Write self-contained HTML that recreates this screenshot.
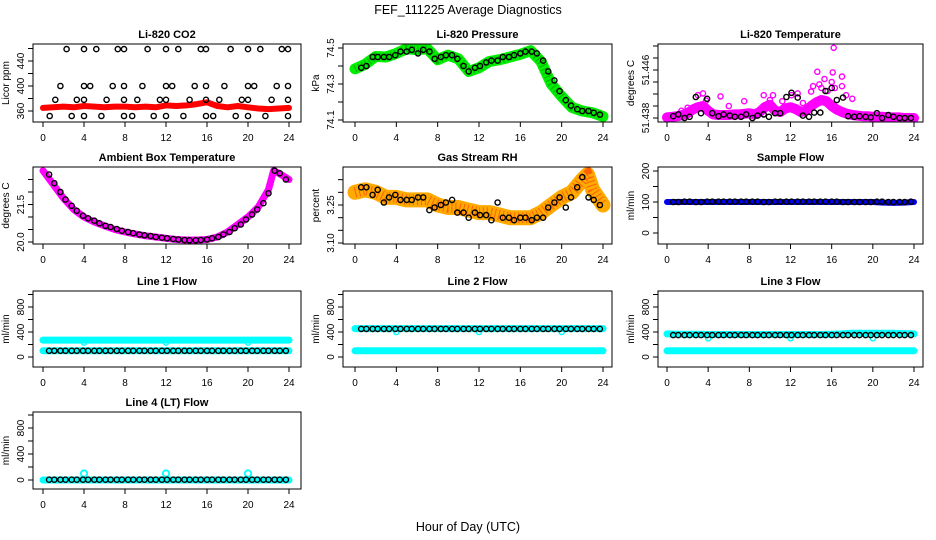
<!DOCTYPE html>
<html><head><meta charset="utf-8">
<style>
html,body{margin:0;padding:0;background:#fff;}
svg{display:block;font-family:"Liberation Sans",Arial,sans-serif;}
</style></head>
<body>
<svg id="chart" width="936" height="540" viewBox="0 0 936 540">
<text x="468" y="14" text-anchor="middle" font-size="12.5">FEF_111225  Average Diagnostics</text>
<text x="468" y="531" text-anchor="middle" font-size="12.5">Hour of Day (UTC)</text>
</svg>
<script>
// ---- data ----
const hourTicks = [0,4,8,12,16,20,24];
const blackH = [0.6,1.1,1.7,2.2,2.8,3.3,3.9,4.4,5.0,5.5,6.1,6.6,7.2,7.7,8.3,8.8,9.4,9.9,10.5,11.0,11.6,12.1,12.7,13.2,13.8,14.3,14.9,15.4,16.0,16.5,17.1,17.6,18.2,18.7,19.3,19.8,20.4,20.9,21.5,22.0,22.6,23.1,23.7];
const hourly = [0,1,2,3,4,5,6,7,8,9,10,11,12,13,14,15,16,17,18,19,20,21,22,23,24];

const co2Red = [365,366,367,366,368,367,366,367,367,366,367,366,369,368,369,371,374,368,366,368,366,364,363,364,365];
const co2BlackH = [2.3,4.0,5.2,7.3,7.9,10.2,12.0,13.2,15.4,15.9,18.3,20.0,21.2,23.3,23.9, 1.7,4.0,4.6,6.8,7.9,9.7,12.0,12.6,14.8,15.9,17.7,20.0,20.6,22.8,23.9, 1.2,3.3,4.0,6.2,7.9,9.2,11.4,12.0,14.3,15.9,17.2,19.4,20.0,22.3,23.9, 0.65,2.8,4.0,5.7,7.9,8.7,10.8,12.0,13.7,15.9,16.6,18.8,20.0,21.7,23.9];
const co2BlackV = [459,459,459,459,459,459,459,459,459,459,459,459,459,459,459, 400,400,400,400,400,400,400,400,400,400,400,400,400,400,400, 378,378,378,378,378,378,378,378,378,378,378,378,378,378,378, 352,352,352,352,352,352,352,352,352,352,352,352,352,352,352];

const presGreen = [74.384,74.41,74.453,74.45,74.47,74.496,74.49,74.496,74.435,74.46,74.44,74.37,74.39,74.425,74.435,74.45,74.465,74.485,74.425,74.30,74.23,74.17,74.15,74.14,74.12];
const presBlack = [74.39,74.40,74.45,74.45,74.45,74.45,74.46,74.48,74.48,74.49,74.47,74.49,74.48,74.44,74.45,74.46,74.46,74.44,74.40,74.37,74.39,74.40,74.42,74.43,74.43,74.45,74.45,74.46,74.47,74.48,74.48,74.47,74.43,74.37,74.32,74.26,74.21,74.18,74.16,74.15,74.15,74.14,74.13];

const tempH = [0,0.5,1,1.5,2,2.5,3,3.5,4,4.5,5,5.5,6,6.5,7,7.5,8,8.5,9,9.5,10,10.5,11,11.5,12,12.5,13,13.5,14,14.5,15,15.5,16,16.5,17,17.5,18,18.5,19,19.5,20,20.5,21,21.5,22,22.5,23,23.5,24];
const tempCore = [51.4381,51.4382,51.4383,51.4385,51.4388,51.4394,51.4398,51.4400,51.4392,51.4386,51.4385,51.4385,51.4385,51.4386,51.4386,51.4387,51.4388,51.4386,51.4390,51.4398,51.4402,51.4392,51.4390,51.4396,51.4398,51.4395,51.4390,51.4392,51.4400,51.4406,51.4410,51.4408,51.4400,51.4394,51.4390,51.4387,51.4385,51.4384,51.4383,51.4383,51.4382,51.4382,51.4382,51.4381,51.4381,51.4381,51.4380,51.4380,51.4380];
const tempMagH = [3.0,3.5,5.2,9.4,10.3,14.6,15.3,16.1,16.2,16.3,17.0,17.0,17.4,14.0,14.2,12.7,12.1,11.2,7.5,3.8,2.0,10.0,13.2,15.0,16.0,15.6,14.8,6.0,1.4,18.0];
const tempMagV = [51.4418,51.4421,51.4416,51.4418,51.4418,51.4457,51.4445,51.4456,51.4497,51.4430,51.4433,51.4449,51.4418,51.4424,51.4433,51.4421,51.4418,51.4408,51.4408,51.4409,51.4397,51.4410,51.4405,51.4430,51.4440,51.4425,51.4436,51.4400,51.4392,51.4412];
const tempBlack = [51.4383,51.4386,51.4380,51.4382,51.4415,51.4388,51.4412,51.4388,51.4383,51.4386,51.4384,51.4382,51.4382,51.4386,51.4380,51.4384,51.4386,51.4382,51.4388,51.4388,51.4415,51.4422,51.4414,51.4384,51.4382,51.4389,51.4389,51.4425,51.4430,51.4410,51.4414,51.4383,51.4382,51.4383,51.4382,51.4381,51.4388,51.4380,51.4385,51.4382,51.4380,51.4380,51.4380];

const ambH = [0,1,2,3,4,5,6,7,8,9,10,11,12,13,14,15,16,17,18,19,20,21,22,22.5,23,24];
const ambMag = [22.85,22.3,21.75,21.3,21.0,20.8,20.65,20.5,20.4,20.32,20.25,20.2,20.15,20.1,20.08,20.08,20.1,20.2,20.4,20.7,21.0,21.4,22.1,22.85,22.75,22.5];
const ambBlack = [22.7,22.35,22.0,21.7,21.45,21.25,21.05,20.95,20.85,20.75,20.65,20.6,20.52,20.45,20.4,20.35,20.3,20.27,20.24,20.2,20.17,20.15,20.12,20.1,20.08,20.07,20.07,20.08,20.1,20.15,20.2,20.3,20.4,20.55,20.7,20.9,21.1,21.3,21.55,21.95,22.85,22.75,22.5];

const rhH = [0,1,2,3,4,5,6,7,8,9,10,11,12,13,14,15,16,17,18,19,20,21,22,22.5,23,24];
const rhOrange = [3.30,3.31,3.30,3.28,3.28,3.27,3.27,3.27,3.25,3.24,3.24,3.23,3.22,3.22,3.21,3.20,3.20,3.20,3.22,3.25,3.28,3.30,3.35,3.37,3.31,3.25];
const rhBlack = [3.32,3.32,3.29,3.31,3.26,3.28,3.29,3.27,3.27,3.27,3.28,3.28,3.23,3.24,3.25,3.26,3.27,3.22,3.22,3.20,3.22,3.21,3.21,3.19,3.26,3.20,3.20,3.19,3.20,3.20,3.19,3.20,3.20,3.24,3.26,3.28,3.24,3.28,3.32,3.36,3.28,3.27,3.25];

const sampleBlue = [100,100,100,100,100,100,100,100,100,100,100,100,100,100,100,100,100,100,100,100,100,98,97,98,100];
const sampleBlack = [100,100,101,101,100,100,101,101,101,101,101,101,101,101,101,101,100,100,101,101,101,101,101,101,101,101,101,101,101,101,100,100,100,100,100,100,101,101,100,100,100,100,101];

const l1Cyan = [270,270,270,270,270,270,270,270,270,270,270,270,270,270,270,270,270,270,270,270,270,270,270,270,270];
const l1Low = [100,100,100,100,100,100,100,100,100,100,100,100,100,100,100,100,100,100,100,100,100,100,100,100,100];
const l1Black = blackH.map(()=>100);
const l2Cyan = [455,455,455,455,455,455,455,455,455,455,455,455,455,455,455,455,455,455,455,455,455,455,455,455,455];
const l2Low = [100,100,100,100,100,100,100,100,100,100,100,100,100,100,100,100,100,100,100,100,100,100,100,100,100];
const l2Black = blackH.map(()=>450);
const l3Cyan = [370,365,365,365,360,360,360,360,360,360,360,360,360,360,360,360,365,370,380,380,380,380,380,375,370];
const l3Low = [100,100,100,100,100,100,100,100,100,100,100,100,100,100,100,100,100,100,100,100,100,100,100,100,100];
const l3Black = blackH.map(()=>350);
const l4Cyan = [0,0,0,0,0,0,0,0,0,0,0,0,0,0,0,0,0,0,0,0,0,0,0,0,0];
const l4Black = blackH.map(()=>5);
const dipH = [4,12,20];
const l1Dip = [230,230,230];
const l2Dip = [400,400,400];
const l3Dip = [300,300,300];
const l4Dip = [100,100,100];

// ---- drawing ----
const NS = 'http://www.w3.org/2000/svg';
const svg = document.getElementById('chart');
function mk(tag, attrs, parent){ const e=document.createElementNS(NS,tag); for(const k in attrs) e.setAttribute(k,attrs[k]); (parent||svg).appendChild(e); return e; }

const cols = [{l:33,r:301,x0:43,x24:289},{l:343,r:612,x0:355,x24:603},{l:658,r:923,x0:667,x24:914}];
const rows = [{t:44,b:122},{t:167,b:244},{t:291,b:367},{t:412,b:489}];

function panel(name, title, ci, ri, ya, yb, yTicks, yLabels, ylab, series){
  const c=cols[ci], r=rows[ri];
  const g = mk('g',{});
  
  
  const xs = h => c.x0 + (c.x24-c.x0)*h/24;
  const ys = v => ya.p + (yb.p-ya.p)*(v-ya.v)/(yb.v-ya.v);
  const clipId='clip-'+name;
  const cp = mk('clipPath',{id:clipId},g);
  mk('rect',{x:c.l,y:r.t,width:c.r-c.l,height:r.b-r.t},cp);
  const plot = mk('g',{'clip-path':'url(#'+clipId+')'},g);
  
  
  series.forEach(s=>{
    if(s.type==='band'){
      const pts = s.x.map((h,i)=>xs(h).toFixed(1)+','+ys(s.y[i]).toFixed(1)).join(' ');
      const pl = mk('polyline',{points:pts,fill:'none',stroke:s.color,'stroke-width':s.w,'stroke-linecap':'round','stroke-linejoin':'round'},plot);
      
      
      if(s.dots){
        const pl2 = mk('polyline',{points:pts,fill:'none',stroke:s.dots,'stroke-width':s.w*0.7,'stroke-dasharray':'1 3','stroke-linecap':'butt','stroke-opacity':0.6},plot);
        
        
      }
    } else {
      const sg = mk('g',{},plot);
      
      
      s.x.forEach((h,i)=>{
        const ci2 = mk('circle',{cx:xs(h).toFixed(1),cy:ys(s.y[i]).toFixed(1),r:s.r||2.6,fill:'none',stroke:s.color,'stroke-width':s.sw||1.4},sg);
        
        
      });
    }
  });
  const box = mk('rect',{x:c.l,y:r.t,width:c.r-c.l,height:r.b-r.t,fill:'none',stroke:'#000','stroke-width':1},g);
  
  
  const xa = mk('g',{},g);
  
  
  mk('line',{x1:xs(0),x2:xs(24),y1:r.b,y2:r.b,stroke:'#000'},xa);
  hourTicks.forEach(h=>{
    mk('line',{x1:xs(h),x2:xs(h),y1:r.b,y2:r.b+5,stroke:'#000'},xa);
    const t = mk('text',{x:xs(h),y:r.b+19,'text-anchor':'middle','font-size':10},xa);
    t.textContent=h;
    
    
  });
  const ya2 = mk('g',{},g);
  
  
  mk('line',{x1:c.l,x2:c.l,y1:ys(yTicks[0]),y2:ys(yTicks[yTicks.length-1]),stroke:'#000'},ya2);
  yTicks.forEach(v=>{ mk('line',{x1:c.l-5,x2:c.l,y1:ys(v),y2:ys(v),stroke:'#000'},ya2); });
  yLabels.forEach(([v,txt])=>{
    const yy=ys(v), xx=c.l-9;
    const t = mk('text',{x:xx,y:yy,'text-anchor':'middle','font-size':10,transform:'rotate(-90 '+xx+' '+yy+')'},ya2);
    t.textContent=txt;
    
    
  });
  const my=(r.t+r.b)/2, mx=c.l-24;
  const yl = mk('text',{x:mx,y:my,'text-anchor':'middle','font-size':10,transform:'rotate(-90 '+mx+' '+my+')'},g);
  yl.textContent=ylab;
  
  
  const tt = mk('text',{x:(c.l+c.r)/2,y:r.t-6,'text-anchor':'middle','font-size':11,'font-weight':'bold'},g);
  tt.textContent=title;
  
  
}

panel('co2','Li-820 CO2',0,0,{v:360,p:111},{v:440,p:61},[360,380,400,420,440,460],[[360,'360'],[400,'400'],[440,'440']],'Licor ppm',[
  {type:'band',name:'co2-average-band',x:hourly,y:co2Red,color:'#ff0000',w:6},
  {type:'pts',name:'co2-hourly-points',x:co2BlackH,y:co2BlackV,color:'#000'}
]);
panel('pressure','Li-820 Pressure',1,0,{v:74.5,p:48},{v:74.1,p:120},[74.1,74.2,74.3,74.4,74.5],[[74.1,'74.1'],[74.3,'74.3'],[74.5,'74.5']],'kPa',[
  {type:'band',name:'pressure-average-band',x:hourly,y:presGreen,color:'#00ee00',w:11,dots:'#008800'},
  {type:'pts',name:'pressure-hourly-points',x:blackH,y:presBlack,color:'#000'}
]);
panel('temperature','Li-820 Temperature',2,0,{v:51.438,p:118},{v:51.446,p:70},[51.438,51.440,51.442,51.444,51.446,51.448,51.450],[[51.438,'51.438'],[51.446,'51.446']],'degrees C',[
  {type:'band',name:'temperature-average-band',x:tempH,y:tempCore,color:'#ff00ff',w:10},
  {type:'pts',name:'temperature-scatter-points',x:tempMagH,y:tempMagV,color:'#ff00ff'},
  {type:'pts',name:'temperature-hourly-points',x:blackH,y:tempBlack,color:'#000'}
]);
panel('ambient','Ambient Box Temperature',0,1,{v:20.0,p:242},{v:21.5,p:204.5},[20.0,20.5,21.0,21.5,22.0,22.5],[[20.0,'20.0'],[21.5,'21.5']],'degrees C',[
  {type:'band',name:'ambient-average-band',x:ambH,y:ambMag,color:'#ff00ff',w:7},
  {type:'pts',name:'ambient-hourly-points',x:blackH,y:ambBlack,color:'#000'}
]);
panel('rh','Gas Stream RH',1,1,{v:3.10,p:243},{v:3.25,p:205},[3.10,3.15,3.20,3.25,3.30,3.35],[[3.10,'3.10'],[3.25,'3.25']],'percent',[
  {type:'band',name:'rh-average-band',x:rhH,y:rhOrange,color:'#ffaa00',w:15,dots:'#ff3000'},
  {type:'pts',name:'rh-hourly-points',x:blackH,y:rhBlack,color:'#000'}
]);
panel('sample','Sample Flow',2,1,{v:0,p:233},{v:200,p:171},[0,50,100,150,200],[[0,'0'],[100,'100'],[200,'200']],'ml/min',[
  {type:'band',name:'sample-average-band',x:hourly,y:sampleBlue,color:'#0000ee',w:6},
  {type:'pts',name:'sample-hourly-points',x:blackH,y:sampleBlack,color:'#000'}
]);
const flowTicks=[0,200,400,600,800,1000], flowLabels=[[0,'0'],[400,'400'],[800,'800']];
panel('line1','Line 1 Flow',0,2,{v:0,p:357},{v:800,p:307},flowTicks,flowLabels,'ml/min',[
  {type:'band',name:'line1-high-band',x:hourly,y:l1Cyan,color:'#00ffff',w:7},
  {type:'band',name:'line1-low-band',x:hourly,y:l1Low,color:'#00ffff',w:7},
  {type:'pts',name:'line1-dips',x:dipH,y:l1Dip,color:'#00ffff'},
  {type:'pts',name:'line1-hourly-points',x:blackH,y:l1Black,color:'#000'}
]);
panel('line2','Line 2 Flow',1,2,{v:0,p:357},{v:800,p:307},flowTicks,flowLabels,'ml/min',[
  {type:'band',name:'line2-high-band',x:hourly,y:l2Cyan,color:'#00ffff',w:7},
  {type:'band',name:'line2-low-band',x:hourly,y:l2Low,color:'#00ffff',w:7},
  {type:'pts',name:'line2-dips',x:dipH,y:l2Dip,color:'#00ffff'},
  {type:'pts',name:'line2-hourly-points',x:blackH,y:l2Black,color:'#000'}
]);
panel('line3','Line 3 Flow',2,2,{v:0,p:357},{v:800,p:307},flowTicks,flowLabels,'ml/min',[
  {type:'band',name:'line3-high-band',x:hourly,y:l3Cyan,color:'#00ffff',w:7},
  {type:'band',name:'line3-low-band',x:hourly,y:l3Low,color:'#00ffff',w:7},
  {type:'pts',name:'line3-dips',x:dipH,y:l3Dip,color:'#00ffff'},
  {type:'pts',name:'line3-hourly-points',x:blackH,y:l3Black,color:'#000'}
]);
panel('line4','Line 4 (LT) Flow',0,3,{v:0,p:480},{v:800,p:428},flowTicks,flowLabels,'ml/min',[
  {type:'band',name:'line4-band',x:hourly,y:l4Cyan,color:'#00ffff',w:7},
  {type:'pts',name:'line4-spikes',x:dipH,y:l4Dip,color:'#00ffff',r:3.2,sw:1.8},
  {type:'pts',name:'line4-hourly-points',x:blackH,y:l4Black,color:'#000'}
]);
</script>
</body></html>
